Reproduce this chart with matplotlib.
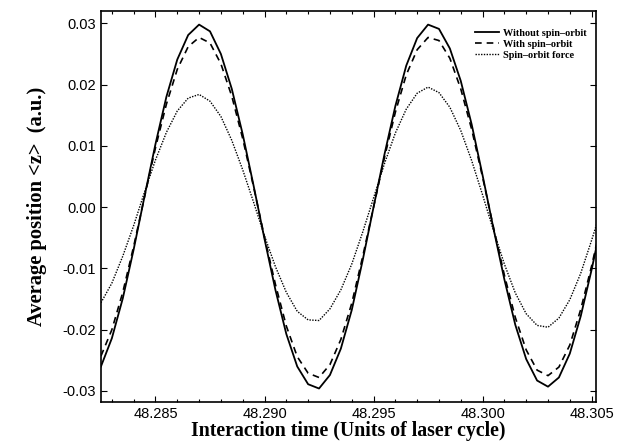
import matplotlib
matplotlib.use('Agg')
import matplotlib.pyplot as plt
from matplotlib.ticker import MultipleLocator, FormatStrFormatter

# sampled interaction times (units of laser cycle)
time = [48.2825, 48.2830, 48.2835, 48.2840, 48.2845, 48.2850, 48.2855, 48.2860,
        48.2865, 48.2870, 48.2875, 48.2880, 48.2885, 48.2890, 48.2895, 48.2900,
        48.2905, 48.2910, 48.2915, 48.2920, 48.2925, 48.2930, 48.2935, 48.2940,
        48.2945, 48.2950, 48.2955, 48.2960, 48.2965, 48.2970, 48.2975, 48.2980,
        48.2985, 48.2990, 48.2995, 48.3000, 48.3005, 48.3010, 48.3015, 48.3020,
        48.3025, 48.3030, 48.3035, 48.3040, 48.3045, 48.3050, 48.3055]

z_without = [-0.0260, -0.0214, -0.0149, -0.0069, 0.0018, 0.0103, 0.0180, 0.0241,
             0.0281, 0.0298, 0.0287, 0.0250, 0.0193, 0.0119, 0.0035, -0.0052,
             -0.0135, -0.0207, -0.0260, -0.0289, -0.0296, -0.0274, -0.0231, -0.0168,
             -0.0087, 0.0000, 0.0086, 0.0165, 0.0231, 0.0276, 0.0298, 0.0291,
             0.0259, 0.0206, 0.0135, 0.0052, -0.0035, -0.0118, -0.0192, -0.0248,
             -0.0283, -0.0293, -0.0278, -0.0239, -0.0178, -0.0102, -0.0018]

z_with = [-0.0243, -0.0200, -0.0139, -0.0064, 0.0017, 0.0097, 0.0168, 0.0225,
          0.0262, 0.0277, 0.0268, 0.0234, 0.0181, 0.0112, 0.0033, -0.0049,
          -0.0126, -0.0194, -0.0244, -0.0271, -0.0278, -0.0257, -0.0216, -0.0157,
          -0.0081, 0.0000, 0.0081, 0.0155, 0.0216, 0.0257, 0.0277, 0.0272,
          0.0243, 0.0193, 0.0127, 0.0049, -0.0033, -0.0111, -0.0180, -0.0233,
          -0.0266, -0.0275, -0.0261, -0.0225, -0.0167, -0.0096, -0.0017]

z_force = [-0.0156, -0.0124, -0.0080, -0.0030, 0.0025, 0.0077, 0.0122, 0.0157,
           0.0178, 0.0184, 0.0173, 0.0148, 0.0109, 0.0061, 0.0008, -0.0047,
           -0.0097, -0.0139, -0.0170, -0.0184, -0.0185, -0.0166, -0.0135, -0.0093,
           -0.0041, 0.0015, 0.0071, 0.0121, 0.0160, 0.0186, 0.0196, 0.0187,
           0.0163, 0.0125, 0.0076, 0.0020, -0.0038, -0.0093, -0.0140, -0.0174,
           -0.0193, -0.0196, -0.0181, -0.0151, -0.0108, -0.0054, 0.0003]

labels = ['Without spin\u2013orbit', 'With spin\u2013orbit', 'Spin\u2013orbit force']

fig = plt.figure(figsize=(6.31, 4.47), dpi=100)
ax = fig.add_axes([0.160, 0.1007, 0.7845, 0.8758])

ax.plot(time, z_without, '-', color='black', lw=1.3, label=labels[0])
ax.plot(time, z_with, color='black', lw=1.2, dashes=(4, 3), label=labels[1])
ax.plot(time, z_force, color='black', lw=1.0, dashes=(1, 1), label=labels[2])

ax.set_xlim(48.2825, 48.3052)
ax.set_ylim(-0.0318, 0.0321)

ax.xaxis.set_major_locator(MultipleLocator(0.005))
ax.xaxis.set_minor_locator(MultipleLocator(0.001))
ax.yaxis.set_major_locator(MultipleLocator(0.01))
ax.xaxis.set_major_formatter(FormatStrFormatter('%.3f'))
ax.yaxis.set_major_formatter(FormatStrFormatter('%.2f'))
ax.tick_params(which='both', direction='in', top=True, right=True,
               labelsize=10.5, width=0.8)
ax.tick_params(which='major', length=4)
ax.tick_params(which='minor', length=2)
for lab in ax.get_xticklabels() + ax.get_yticklabels():
    lab.set_family('Liberation Sans')
for sp in ax.spines.values():
    sp.set_linewidth(1.2)

ax.set_xlabel('Interaction time (Units of laser cycle)', family='Liberation Serif',
              fontweight='bold', fontsize=14.3, labelpad=0)
ax.set_ylabel('Average position <z>  (a.u.)', family='Liberation Serif',
              fontweight='bold', fontsize=14.8, labelpad=11)

ax.legend(loc='upper right', bbox_to_anchor=(0.982, 0.954), frameon=False,
          handlelength=2.4, handletextpad=0.4, borderpad=0, borderaxespad=0,
          prop={'family': 'Liberation Serif', 'weight': 'bold', 'size': 7.4},
          labelspacing=0.18)

fig.savefig('out.png', dpi=100)
